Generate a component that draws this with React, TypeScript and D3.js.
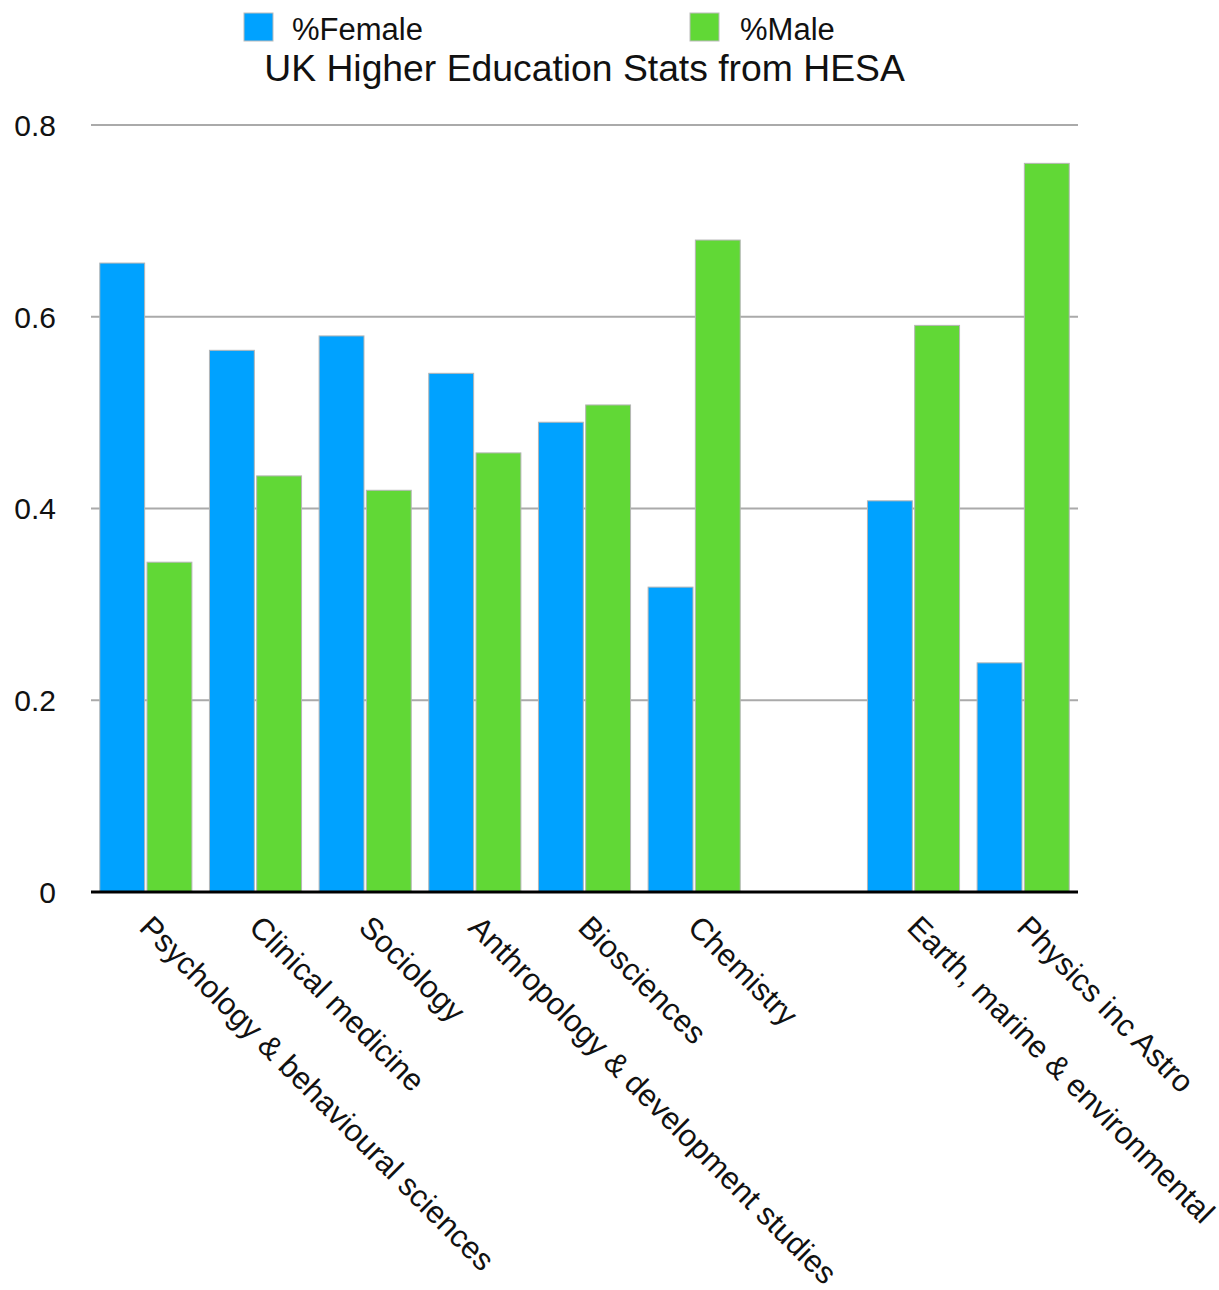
import React from "react";
import * as d3 from "d3";

const categories: string[] = [
  "Psychology & behavioural sciences",
  "Clinical medicine",
  "Sociology",
  "Anthropology & development studies",
  "Biosciences",
  "Chemistry",
  "",
  "Earth, marine & environmental",
  "Physics inc Astro",
];
const femaleValues: (number | null)[] = [0.656, 0.565, 0.58, 0.541, 0.49, 0.318, null, 0.408, 0.239];
const maleValues: (number | null)[] = [0.344, 0.434, 0.419, 0.458, 0.508, 0.68, null, 0.591, 0.76];
const seriesNames: string[] = ["%Female", "%Male"];
const seriesColors: string[] = ["#00A2FF", "#61D836"];
const yTicks: number[] = [0, 0.2, 0.4, 0.6, 0.8];
const title = "UK Higher Education Stats from HESA";

const W = 1219;
const H = 1290;
const left = 91;
const right = 1078;
const top = 125;
const bottom = 892;
const font = "'Liberation Sans', Arial, Helvetica, sans-serif";

export default function App() {
  const idx = categories.map((_, i) => String(i));
  const x0 = d3.scaleBand<string>().domain(idx).range([left, right]).paddingInner(0.16).paddingOuter(0.08);
  const x1 = d3.scaleBand<string>().domain(["0", "1"]).range([0, x0.bandwidth()]).paddingInner(0.05);
  const y = d3.scaleLinear().domain([0, 0.8]).range([bottom, top]);
  const series = [femaleValues, maleValues];

  return (
    <svg width={W} height={H} style={{ position: "absolute", left: 0, top: 0, background: "#fff" }} fontFamily={font}>
      <rect x={0} y={0} width={W} height={H} fill="#fff" />
      {/* legend */}
      <rect x={244} y={13} width={29} height={28} fill={seriesColors[0]} stroke="#bbb" strokeWidth={1} />
      <text x={292} y={40} fontSize={31} fill="#111">{seriesNames[0]}</text>
      <rect x={690} y={13} width={29} height={28} fill={seriesColors[1]} stroke="#bbb" strokeWidth={1} />
      <text x={740} y={40} fontSize={31} fill="#111">{seriesNames[1]}</text>
      {/* title */}
      <text x={(left + right) / 2} y={81} fontSize={37.3} textAnchor="middle" fill="#111">{title}</text>
      {/* grid */}
      {yTicks.map((t) => (
        <g key={t}>
          {t !== 0 && <line x1={left} x2={right} y1={y(t)} y2={y(t)} stroke="#aaa" strokeWidth={2} />}
          <text x={56} y={y(t)} dy="0.36em" fontSize={30} textAnchor="end" fill="#111">{String(t)}</text>
        </g>
      ))}
      {/* bars */}
      {categories.map((c, i) => (
        <g key={i} transform={`translate(${x0(String(i))},0)`}>
          {series.map((s, k) => {
            const v = s[i];
            if (v == null) return null;
            return (
              <rect
                key={k}
                x={x1(String(k))}
                y={y(v)}
                width={x1.bandwidth()}
                height={bottom - y(v)}
                fill={seriesColors[k]}
                stroke="#b5b5b5"
                strokeWidth={1}
              />
            );
          })}
        </g>
      ))}
      {/* axis line */}
      <line x1={left} x2={right} y1={bottom} y2={bottom} stroke="#000" strokeWidth={3} />
      {/* category labels */}
      {categories.map((c, i) => {
        const ax = (x0(String(i)) as number) + x0.bandwidth() / 2 - 8;
        const ay = bottom + 37;
        return c ? (
          <text key={i} x={0} y={0} fontSize={31} fill="#111" transform={`translate(${ax},${ay}) rotate(45)`}>
            {c}
          </text>
        ) : null;
      })}
    </svg>
  );
}
